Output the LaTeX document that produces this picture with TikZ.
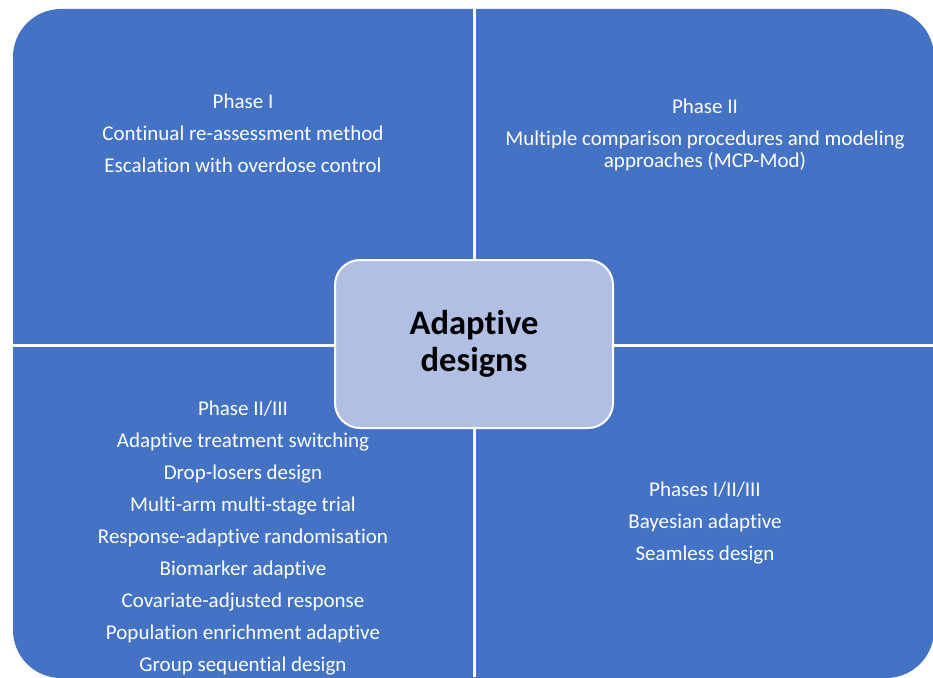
\documentclass[tikz,border=0pt]{standalone}
\usepackage{fontspec}
\setmainfont{Carlito}[Ligatures=NoCommon]
\definecolor{qblue}{HTML}{4472C4}
\definecolor{cfill}{HTML}{B1BFE2}
\begin{document}
\begin{tikzpicture}[x=1pt,y=-1pt,
  item/.style={text=white,anchor=base,inner sep=0pt,font=\fontsize{21}{24}\selectfont},
  hub/.style={draw=white,line width=2pt,fill=cfill,rounded corners=25pt,minimum width=278pt,minimum height=168pt,align=center,font=\fontsize{34.5}{37}\selectfont\bfseries,text=black}]
\useasboundingbox (0,0) rectangle (933,677);
\fill[white] (0,0) rectangle (933,677);
\fill[qblue,rounded corners=48pt] (13,9) rectangle (934,678);
\draw[white,line width=3pt] (474,0) -- (474,677);
\draw[white,line width=3pt] (0,345) -- (933,345);
\node[hub] (hubnode) at (474,344) {Adaptive\\designs};
% top-left
\node[item] (tl1) at (243,108) {Phase I};
\node[item] (tl2) at (243,140) {Continual re-assessment method};
\node[item] (tl3) at (243,172) {Escalation with overdose control};
% top-right
\node[item] (tr1) at (705,113) {Phase II};
\node[item] (tr2) at (705,145) {Multiple comparison procedures and modeling};
\node[item] (tr3) at (705,167) {approaches (MCP-Mod)};
% bottom-left
\node[item] (bl1) at (243,415) {Phase II/III};
\node[item] (bl2) at (243,447.5) {Adaptive treatment switching};
\node[item] (bl3) at (243,479.5) {Drop-losers design};
\node[item] (bl4) at (243,511.5) {Multi-arm multi-stage trial};
\node[item] (bl5) at (243,543.5) {Response-adaptive randomisation};
\node[item] (bl6) at (243,575.5) {Biomarker adaptive};
\node[item] (bl7) at (243,607.5) {Covariate-adjusted response};
\node[item] (bl8) at (243,639.5) {Population enrichment adaptive};
\node[item] (bl9) at (243,671.5) {Group sequential design};
% bottom-right
\node[item] (br1) at (705,496) {Phases I/II/III};
\node[item] (br2) at (705,528) {Bayesian adaptive};
\node[item] (br3) at (705,560) {Seamless design};
\end{tikzpicture}
\end{document}
